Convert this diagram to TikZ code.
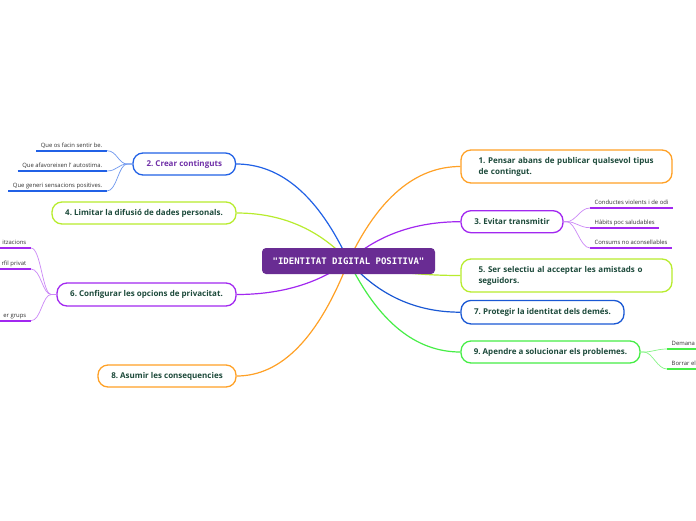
\documentclass[tikz,border=0pt]{standalone}
\usepackage{fontspec}
\setmainfont{Open Sans}
\newfontfamily\monof{DejaVu Sans Mono}
\usetikzlibrary{calc,backgrounds}
\frenchspacing
\hyphenpenalty=10000
\hbadness=10000
\hfuzz=20pt
\definecolor{cblue}{HTML}{2161E6}
\definecolor{cdblue}{HTML}{1A58D4}
\definecolor{clime}{HTML}{B8EC2E}
\definecolor{cpurple}{HTML}{A228F0}
\definecolor{corange}{HTML}{FFA126}
\definecolor{cgreen}{HTML}{46EE46}
\definecolor{cbox}{HTML}{692C93}
\definecolor{ctext}{HTML}{1D4A3B}
\definecolor{ctwo}{HTML}{7030A8}
\definecolor{cleaf}{HTML}{333333}
\tikzset{
  topic/.style={draw, rounded corners=10pt, line width=1.3pt, fill=white,
    font=\fontsize{8}{11}\selectfont\bfseries, text=ctext, inner sep=0pt, align=center},
  centre/.style={fill=cbox, rounded corners=4pt, minimum width=173pt, minimum height=26pt,
    text=white, font=\monof\bfseries\fontsize{9}{10}\selectfont, inner sep=0pt},
  leaf/.style={inner xsep=4.5pt, inner ysep=2.5pt, text height=4.4pt, text depth=1pt,
    font=\fontsize{5.9}{6.5}\selectfont, text=cleaf},
  uline/.style={line width=2pt},
  twig/.style={line width=0.7pt},
  limb/.style={line width=1.2pt}
}
\newcommand\mybranch[2]{%
  \path ($(c.center)!0.4!(#2)$) coordinate (ka);
  \path (ka |- #2) coordinate (kb);
  \draw[#1, limb] (c.center) .. controls ($(c.center)!0.6667!(kb)$) and ($(#2)!0.6667!(kb)$) .. (#2);
}
\newcommand\twigL[3]{\draw[#1, twig] (#2) -- ++(-5,0) .. controls +(-9,0) and +(10,0) .. (#3);}
\newcommand\twigR[3]{\draw[#1, twig] (#2) -- ++(3,0) .. controls +(9,0) and +(-10,0) .. (#3);}
\begin{document}
\begin{tikzpicture}[x=1pt, y=-1pt]
\useasboundingbox (0,0) rectangle (696,520);

% centre
\node[centre] (c) at (348.5,261) {"IDENTITAT DIGITAL POSITIVA"};

% right topics
\node[topic, draw=corange, minimum width=211pt, minimum height=33pt, text width=176pt, align=left] (n1) at (566.5,166.5)
  {\mbox{1. Pensar abans de publicar qualsevol tipus}\\de contingut.};
\node[topic, draw=cpurple, minimum width=102pt, minimum height=22pt] (n3) at (512,221.7) {3. Evitar transmitir};
\node[topic, draw=clime, minimum width=211pt, minimum height=33pt, text width=176pt, align=left] (n5) at (566.5,275.5)
  {5. Ser selectiu al acceptar les amistads o\\seguidors.};
\node[topic, draw=cdblue, minimum width=163pt, minimum height=23.5pt] (n7) at (542.5,312.2) {7. Protegir la identitat dels demés.};
\node[topic, draw=cgreen, minimum width=179pt, minimum height=22pt] (n9) at (550.5,352) {9. Apendre a solucionar els problemes.};

% left topics
\node[topic, draw=cblue, text=ctwo, minimum width=102.5pt, minimum height=22pt] (n2) at (184.25,164) {2. Crear continguts};
\node[topic, draw=clime, minimum width=184pt, minimum height=22pt] (n4) at (144,213) {4. Limitar la difusió de dades personals.};
\node[topic, draw=cpurple, minimum width=179pt, minimum height=23pt] (n6) at (146.5,294.5) {6. Configurar les opcions de privacitat.};
\node[topic, draw=corange, minimum width=138pt, minimum height=22pt] (n8) at (167,376) {8. Asumir les consequencies};

% leaves of 2
\node[leaf, anchor=south east] (l21) at (107,150.7) {Que os facin sentir be.};
\node[leaf, anchor=south east] (l22) at (107,171) {Que afavoreixen l' autostima.};
\node[leaf, anchor=south east] (l23) at (107,191) {Que generi sensacions positives.};
% leaves of 6
\node[leaf, anchor=south east] (l61) at (31,248) {itzacions};
\node[leaf, anchor=south east] (l62) at (31,269) {rfil privat};
\node[leaf, anchor=south east] (l63) at (31,320.7) {er grups};
% leaves of 3
\node[leaf, anchor=south west] (l31) at (590,208) {Conductes violents i de odi};
\node[leaf, anchor=south west] (l32) at (590,227.7) {Hàbits poc saludables};
\node[leaf, anchor=south west] (l33) at (590,248) {Consums no aconsellables};
% leaves of 9
\node[leaf, anchor=south west] (l91) at (667,349) {Demana};
\node[leaf, anchor=south west] (l92) at (667,369) {Borrar el};

\begin{scope}[on background layer]
  \fill[white] (0,0) rectangle (696,520);
  \mybranch{corange}{n1.west}
  \mybranch{cpurple}{n3.west}
  \mybranch{clime}{n5.west}
  \mybranch{cdblue}{n7.west}
  \mybranch{cgreen}{n9.west}
  \mybranch{cblue}{n2.east}
  \mybranch{clime}{n4.east}
  \mybranch{cpurple}{n6.east}
  \mybranch{corange}{n8.east}
\end{scope}

% underlines
\foreach \l in {l21,l22,l23} \draw[cblue, uline] (\l.south west) -- (\l.south east);
\foreach \l in {l61,l62,l63,l31,l32,l33} \draw[cpurple, uline] (\l.south west) -- (\l.south east);
\foreach \l in {l91,l92} \draw[cgreen, uline] (\l.south west) -- (\l.south east);

% twigs
\twigL{cblue!65}{n2.west}{l21.south east}
\twigL{cblue!65}{n2.west}{l22.south east}
\twigL{cblue!65}{n2.west}{l23.south east}
\twigL{cpurple!55}{n6.west}{l61.south east}
\twigL{cpurple!55}{n6.west}{l62.south east}
\twigL{cpurple!55}{n6.west}{l63.south east}
\twigR{cpurple!55}{n3.east}{l31.south west}
\twigR{cpurple!55}{n3.east}{l32.south west}
\twigR{cpurple!55}{n3.east}{l33.south west}
\twigR{cgreen!65}{n9.east}{l91.south west}
\twigR{cgreen!65}{n9.east}{l92.south west}
\end{tikzpicture}
\end{document}
